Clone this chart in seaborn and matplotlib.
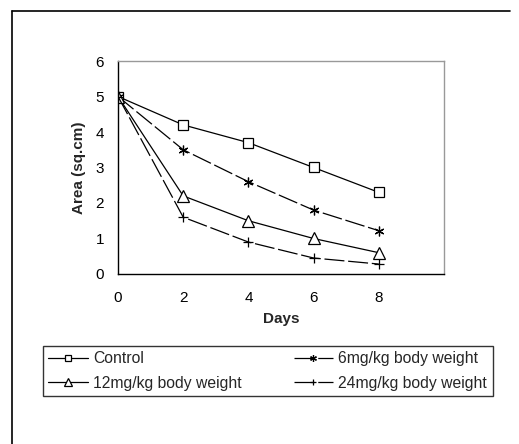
import matplotlib
matplotlib.use("Agg")
import matplotlib.pyplot as plt
import seaborn as sns
import pandas as pd
from matplotlib.lines import Line2D

days = [0, 2, 4, 6, 8]
control = [5.0, 4.2, 3.7, 3.0, 2.3]
mg6 = [5.0, 3.5, 2.6, 1.8, 1.22]
mg12 = [5.0, 2.2, 1.5, 1.0, 0.6]
mg24 = [5.0, 1.6, 0.9, 0.45, 0.28]
labels = ["Control", "6mg/kg body weight", "12mg/kg body weight", "24mg/kg body weight"]
yticks = [0, 1, 2, 3, 4, 5, 6]
xticks = [0, 2, 4, 6, 8]

sns.set_theme(style="white")
plt.rcParams['font.family'] = ['Liberation Sans', 'DejaVu Sans']

fig = plt.figure(figsize=(5.19, 4.44), dpi=100)
ax = fig.add_axes([0.2274, 0.3829, 0.628, 0.4797])

styles = [
    dict(marker='s', ls='-', ms=7),
    dict(marker=(6, 2, 0), ls=(0, (16, 3)), ms=7),
    dict(marker='^', ls='-', ms=8),
    dict(marker='+', ls=(0, (16, 3)), ms=7),
]
series = [control, mg6, mg12, mg24]
for vals, lab, st in zip(series, labels, styles):
    df = pd.DataFrame({"Days": days, "Area": vals})
    sns.lineplot(data=df, x="Days", y="Area", ax=ax, color='black', lw=0.9,
                 marker=st['marker'], markersize=st['ms'], markerfacecolor='white',
                 markeredgecolor='black', markeredgewidth=0.9, linestyle=st['ls'],
                 label=lab)

ax.set_xlim(0, 10)
ax.set_ylim(0, 6)
ax.set_xticks([0, 2, 4, 6, 8, 10])
ax.set_xticklabels([str(t) for t in xticks] + [""])
ax.set_yticks(yticks)
ax.set_yticklabels([str(t) for t in yticks])
ax.tick_params(axis='x', direction='inout', length=8, width=1, color='black', labelsize=11, pad=8)
ax.tick_params(axis='y', direction='out', length=5, width=1, color='black', labelsize=11, pad=5)
ax.tick_params(axis='both', labelcolor='black')
for s in ['left', 'bottom']:
    ax.spines[s].set_color('black')
    ax.spines[s].set_linewidth(1.0)
for s in ['top', 'right']:
    ax.spines[s].set_color('#999999')
    ax.spines[s].set_linewidth(1.0)
ax.set_xlabel("Days", fontsize=11, fontweight='bold', labelpad=5)
ax.set_ylabel("Area (sq.cm)", fontsize=11, fontweight='bold', labelpad=7)

h, l = ax.get_legend_handles_labels()
order = [0, 2, 1, 3]
leg = fig.legend([h[i] for i in order], [l[i] for i in order], ncol=2,
                 loc='upper left', bbox_to_anchor=(43/519, 1-346/444),
                 frameon=True, fancybox=False, edgecolor='black', fontsize=11.3,
                 handlelength=2.5, handletextpad=0.35, columnspacing=3.3,
                 borderpad=0.35, labelspacing=0.6, borderaxespad=0, markerscale=0.7)
leg.get_frame().set_linewidth(1.0)
if ax.get_legend():
    ax.get_legend().remove()

fig.add_artist(Line2D([12/519, 510/519], [1-11/444, 1-11/444], color='black', lw=1.2))
fig.add_artist(Line2D([12/519, 12/519], [1-11/444, 0], color='black', lw=1.2))

fig.savefig("out.png", dpi=100)
